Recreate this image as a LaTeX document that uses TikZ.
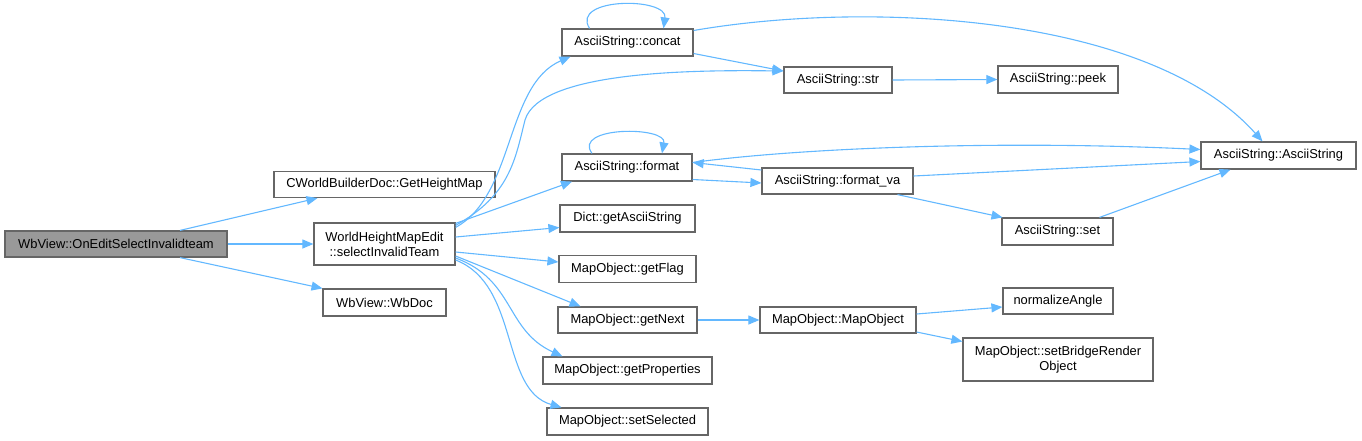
\documentclass[tikz,border=0pt]{standalone}
\usepackage{fontspec}
\setmainfont{Liberation Sans}
\usetikzlibrary{arrows.meta}
\definecolor{edgec}{HTML}{63B8FF}
\definecolor{bord}{HTML}{666666}
\definecolor{mainf}{HTML}{999999}
\tikzset{
  fn/.style={draw=bord, line width=1.2pt, fill=white, inner sep=0pt, align=center,
    font=\fontsize{12.9}{15}\selectfont, text=black},
  mainfn/.style={fn, fill=mainf},
  e/.style={draw=edgec, line width=1.1pt, -{Triangle[length=11pt,width=9pt]}}
}
\begin{document}
\begin{tikzpicture}[x=1pt,y=-1pt]
\useasboundingbox (0,0) rectangle (1362,440);
% nodes
\node[mainfn, minimum width=222pt, minimum height=26pt] (main) at (116,244) {WbView::OnEditSelectInvalidteam};
\node[fn, minimum width=221pt, minimum height=26pt] (gh) at (384.5,184.5) {CWorldBuilderDoc::GetHeightMap};
\node[fn, minimum width=141pt, minimum height=42pt] (sel) at (384.5,244) {WorldHeightMapEdit\\::selectInvalidTeam};
\node[fn, minimum width=123pt, minimum height=27pt] (wbdoc) at (384.5,302.5) {WbView::WbDoc};
\node[fn, minimum width=131pt, minimum height=27pt] (concat) at (627.5,42.5) {AsciiString::concat};
\node[fn, minimum width=108pt, minimum height=26pt] (str) at (838,80) {AsciiString::str};
\node[fn, minimum width=130pt, minimum height=27pt] (format) at (627,167.5) {AsciiString::format};
\node[fn, minimum width=151pt, minimum height=26pt] (fva) at (837.5,181) {AsciiString::format\_va};
\node[fn, minimum width=135pt, minimum height=27pt] (dict) at (627.5,218.5) {Dict::getAsciiString};
\node[fn, minimum width=137pt, minimum height=27pt] (flag) at (627.5,269) {MapObject::getFlag};
\node[fn, minimum width=139pt, minimum height=26pt] (next) at (627.5,320) {MapObject::getNext};
\node[fn, minimum width=156pt, minimum height=26pt] (mobj) at (838,320) {MapObject::MapObject};
\node[fn, minimum width=169pt, minimum height=27pt] (prop) at (627.5,370.5) {MapObject::getProperties};
\node[fn, minimum width=161pt, minimum height=27pt] (ssel) at (627.5,421.5) {MapObject::setSelected};
\node[fn, minimum width=120pt, minimum height=27pt] (peek) at (1058,79.5) {AsciiString::peek};
\node[fn, minimum width=155pt, minimum height=27pt] (asc) at (1278.5,155.5) {AsciiString::AsciiString};
\node[fn, minimum width=111pt, minimum height=27pt] (set) at (1057.5,231.5) {AsciiString::set};
\node[fn, minimum width=110pt, minimum height=26pt] (norm) at (1058,301) {normalizeAngle};
\node[fn, minimum width=190pt, minimum height=43pt] (sb) at (1058,359.5) {MapObject::setBridgeRender\\Object};
% edges
\draw[e] ([xshift=64pt]main.north) -- ([xshift=-67pt]gh.south);
\draw[e] (main.east) -- (sel.west);
\draw[e] ([xshift=64pt]main.south) -- ([xshift=-62pt]wbdoc.north);
\draw[e] ([yshift=-5pt]sel.north east) .. controls (515,195) and (505,85) .. ([xshift=-57pt]concat.south);
\draw[e] ([yshift=-3pt]sel.north east) .. controls (510,195) and (515,160) .. (525,120) .. controls (540,70) and (700,70) .. ([yshift=9pt]str.west);
\draw[e] ([yshift=-1pt]sel.north east) -- ([xshift=-55pt]format.south);
\draw[e] ([yshift=7pt]sel.east) -- ([yshift=-9pt]dict.west);
\draw[e] ([yshift=-8pt]sel.east) -- ([yshift=7pt]flag.west);
\draw[e] ([yshift=-12pt]sel.east) -- ([xshift=-47pt]next.north);
\draw[e] ([yshift=-14pt]sel.east) .. controls (515,280) and (505,330) .. ([xshift=-65pt]prop.north);
\draw[e] ([yshift=-16pt]sel.east) .. controls (520,285) and (500,390) .. ([xshift=-66pt]ssel.north);
\draw[e] ([xshift=-38pt]concat.north) .. controls (570,-3) and (668,-3) .. ([xshift=36pt]concat.north);
\draw[e] ([yshift=-11pt]concat.east) -- ([yshift=9pt]str.west);
\draw[e] ([yshift=12pt]concat.east) .. controls (870,0) and (1150,15) .. ([xshift=-16pt]asc.north);
\draw[e] (str.east) -- (peek.west);
\draw[e] ([xshift=-35pt]format.north) .. controls (572,126) and (667,126) .. ([xshift=35pt]format.north);
\draw[e] ([yshift=5pt]format.east) .. controls (800,148) and (1000,140) .. ([yshift=6pt]asc.west);
\draw[e] ([yshift=-12pt]format.east) -- ([yshift=-2pt]fva.west);
\draw[e] ([yshift=11pt]fva.west) -- ([yshift=5pt]format.east);
\draw[e] ([yshift=5pt]fva.east) -- ([yshift=-6pt]asc.west);
\draw[e] ([xshift=60pt]fva.south) -- ([xshift=-55pt]set.north);
\draw[e] ([xshift=42pt]set.north) -- ([xshift=-48pt]asc.south);
\draw[e] (next.east) -- (mobj.west);
\draw[e] ([yshift=6pt]mobj.east) -- ([yshift=-6pt]norm.west);
\draw[e] ([yshift=-12pt]mobj.east) -- ([yshift=18pt]sb.west);
\end{tikzpicture}
\end{document}
